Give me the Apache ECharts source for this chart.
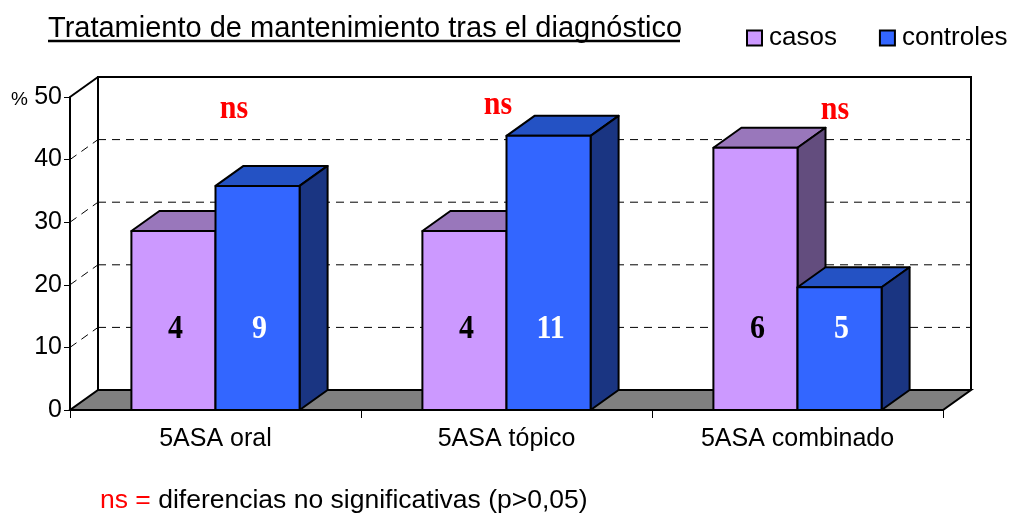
<!DOCTYPE html>
<html>
<head>
<meta charset="utf-8">
<script src="https://cdn.jsdelivr.net/npm/echarts@6/dist/echarts.min.js"></script>
<style>
  html, body { margin: 0; padding: 0; background: #fff; }
  #chart { width: 1012px; height: 514px; }
</style>
</head>
<body>
<div id="chart"></div>
<script>
  // datos (%)
  const categories = ['5ASA oral', '5ASA tópico', '5ASA combinado'];
  const casos = [28.6, 28.6, 41.9];
  const controles = [35.8, 43.8, 19.6];
  const casosN = [4, 4, 6];
  const controlesN = [9, 11, 5];
  const yTicks = [0, 10, 20, 30, 40, 50];

  const DX = 28, DY = -20;
  const FONT = 'Liberation Sans, Arial, sans-serif';
  const SERIF = 'Liberation Serif, Times New Roman, serif';

  let chart = echarts.init(document.getElementById('chart'));

  function frameItem(params, api) {
    const cs = params.coordSys;
    const L = cs.x, R = cs.x + cs.width;
    const B = api.coord([0, 0])[1];
    const T = api.coord([0, yTicks[yTicks.length - 1]])[1];
    const solid = { stroke: '#000', lineWidth: 2, fill: null };
    const dash = { stroke: '#000', lineWidth: 1, lineDash: [8, 6], fill: null };
    const kids = [
      { type: 'polygon', shape: { points: [[L, B], [R, B], [R + DX, B + DY], [L + DX, B + DY]] },
        style: { fill: '#808080', stroke: '#000', lineWidth: 2 } },
      { type: 'polyline', shape: { points: [[L + DX, B + DY], [L + DX, T + DY], [R + DX, T + DY], [R + DX, B + DY]] }, style: solid },
      { type: 'line', shape: { x1: L, y1: T, x2: L + DX, y2: T + DY }, style: solid }
    ];
    yTicks.slice(1, -1).forEach(function (t) {
      const y = api.coord([0, t])[1];
      kids.push({ type: 'line', shape: { x1: L + DX, y1: y + DY, x2: R + DX, y2: y + DY }, style: dash });
      kids.push({ type: 'line', shape: { x1: L, y1: y, x2: L + DX, y2: y + DY }, style: dash });
    });
    return { type: 'group', children: kids };
  }

  function barItem(pos, face, top, sideCol, lblCol, counts) {
    return function (params, api) {
      const i = api.value(0), v = api.value(1);
      const base = api.coord([i, 0]);
      const tp = api.coord([i, v]);
      const bw = api.size([1, 0])[0] * 0.289;
      const x0 = pos === 0 ? base[0] - bw : base[0];
      const x1 = x0 + bw;
      const y0 = base[1], y1 = tp[1];
      const ly = api.coord([i, 12.9])[1];
      const st = function (c) { return { fill: c, stroke: '#000', lineWidth: 2, lineJoin: 'round' }; };
      return {
        type: 'group',
        children: [
          { type: 'polygon', shape: { points: [[x0, y1], [x1, y1], [x1 + DX, y1 + DY], [x0 + DX, y1 + DY]] }, style: st(top) },
          { type: 'polygon', shape: { points: [[x1, y0], [x1 + DX, y0 + DY], [x1 + DX, y1 + DY], [x1, y1]] }, style: st(sideCol) },
          { type: 'rect', shape: { x: x0, y: y1, width: bw, height: y0 - y1 }, style: st(face) },
          { type: 'text', x: (x0 + x1) / 2 + 2, y: ly, scaleY: 1.1,
            style: { text: String(counts[i]), x: 0, y: 0, align: 'center', verticalAlign: 'middle',
              fill: lblCol, font: 'bold 30px ' + SERIF } }
        ]
      };
    };
  }

  function nsText(cx, base) {
    return { type: 'text', x: cx, y: base, scaleY: 1.1,
      style: { text: 'ns', x: 0, y: 0, align: 'center', verticalAlign: 'bottom', font: 'bold 30px ' + SERIF, fill: '#ff0000' } };
  }

  let option = {
    backgroundColor: '#fff',
    animation: false,
    grid: { left: 70, right: 69, top: 97, bottom: 104, containLabel: false },
    legend: {
      left: 746, top: 25, padding: 0, width: 266,
      icon: 'rect', itemWidth: 15, itemHeight: 15, itemGap: 42,
      itemStyle: { borderColor: '#000', borderWidth: 2 },
      textStyle: { fontFamily: FONT, fontSize: 26, color: '#000', padding: [0, 0, 0, 2] },
      data: ['casos', 'controles']
    },
    xAxis: {
      type: 'category',
      data: categories,
      axisLine: { lineStyle: { color: '#000', width: 2 } },
      axisTick: { show: true, length: 8, lineStyle: { color: '#000', width: 1 } },
      axisLabel: { fontFamily: FONT, fontSize: 25, color: '#000', margin: 17 }
    },
    yAxis: {
      type: 'value', min: 0, max: 50, interval: 10,
      axisLine: { show: true, lineStyle: { color: '#000', width: 2 } },
      axisTick: { show: true, length: 6, lineStyle: { color: '#000', width: 1 } },
      axisLabel: { fontFamily: FONT, fontSize: 25, color: '#000', margin: 8 },
      splitLine: { show: false }
    },
    graphic: [
      { type: 'text', x: 48, y: 29, style: { text: 'Tratamiento de mantenimiento tras el diagnóstico', x: 0, y: 0,
          verticalAlign: 'middle', font: '29px ' + FONT, fill: '#000' } },
      { type: 'line', shape: { x1: 48, y1: 41, x2: 680, y2: 41 }, style: { stroke: '#000', lineWidth: 2.5 } },
      { type: 'text', x: 11, y: 100, style: { text: '%', x: 0, y: 0, verticalAlign: 'middle', font: '19px ' + FONT, fill: '#000' } },
      nsText(234, 126),
      nsText(498, 122),
      nsText(835, 127),
      { type: 'text', x: 100, y: 501, style: {
          text: '{r|ns =} diferencias no significativas (p>0,05)', x: 0, y: 0, verticalAlign: 'middle',
          font: '26.5px ' + FONT, fill: '#000',
          rich: { r: { fill: '#ff0000', font: '26.5px ' + FONT } } } }
    ],
    series: [
      { type: 'custom', name: 'frame', z: 1, silent: true, renderItem: frameItem, data: [[0, 0]] },
      { type: 'custom', name: 'casos', z: 2, itemStyle: { color: '#CC99FF' },
        renderItem: barItem(0, '#CC99FF', '#9977BB', '#634D7E', '#000', casosN),
        data: casos.map(function (v, i) { return [i, v]; }) },
      { type: 'custom', name: 'controles', z: 2, itemStyle: { color: '#3366FF' },
        renderItem: barItem(1, '#3366FF', '#2452C4', '#1A3582', '#fff', controlesN),
        data: controles.map(function (v, i) { return [i, v]; }) }
    ]
  };

  chart.setOption(option);
  window.addEventListener('resize', function () { chart.resize(); });
</script>
</body>
</html>
